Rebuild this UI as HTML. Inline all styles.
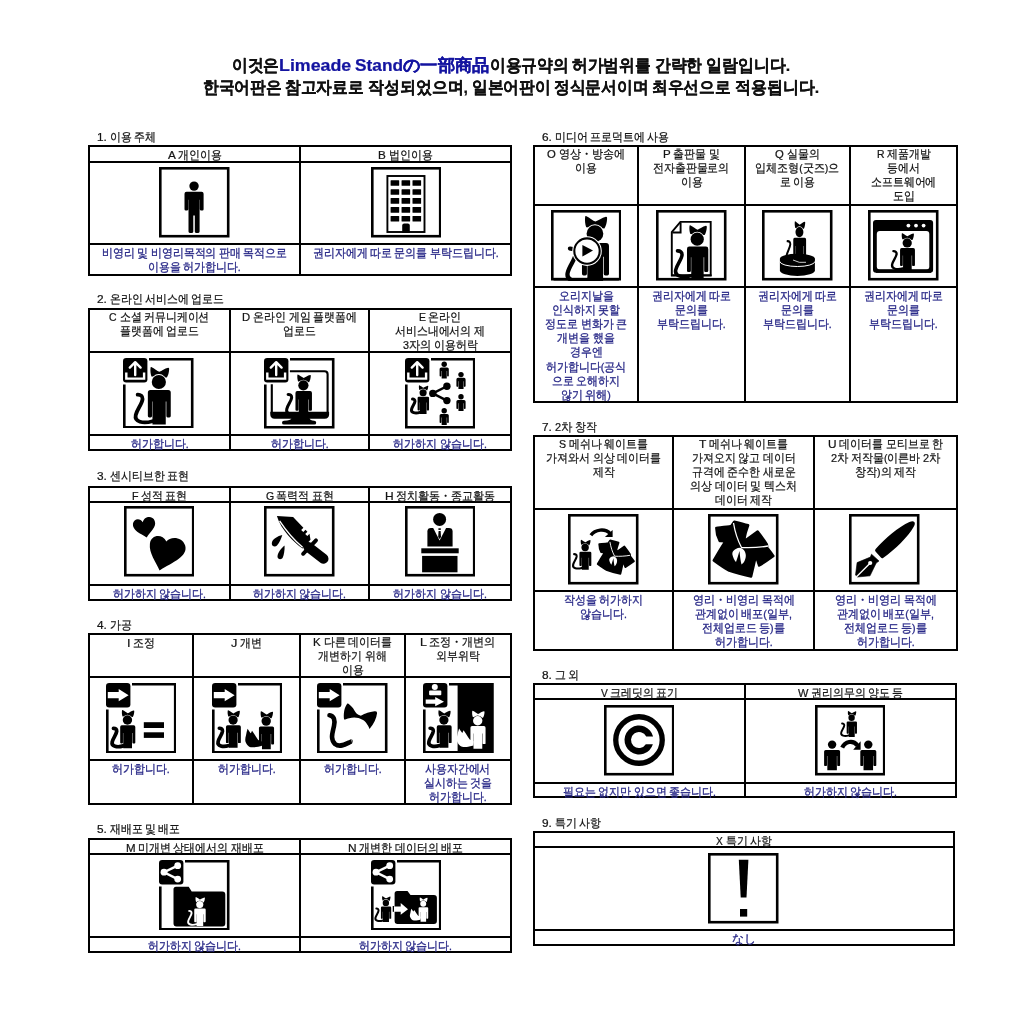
<!DOCTYPE html><html><head><meta charset="utf-8"><style>
html,body{margin:0;padding:0;background:#fff;width:1024px;height:1024px;overflow:hidden;position:relative;font-family:"Liberation Sans", sans-serif;}
.l{position:absolute;background:#000}
.t{position:absolute;white-space:nowrap;font-size:11.5px;line-height:14.13px;height:14.13px;color:#151515;-webkit-text-stroke:0.24px currentColor;transform-origin:0 50%}
.n{color:#2a2a88;-webkit-text-stroke:0.32px currentColor}
svg{position:absolute;overflow:hidden}
</style></head><body>
<div class="l" style="left:88px;top:145px;width:424px;height:2px"></div>
<div class="l" style="left:88px;top:161px;width:424px;height:2px"></div>
<div class="l" style="left:88px;top:243px;width:424px;height:2px"></div>
<div class="l" style="left:88px;top:274px;width:424px;height:2px"></div>
<div class="l" style="left:88px;top:145px;width:2px;height:131px"></div>
<div class="l" style="left:299px;top:145px;width:2px;height:131px"></div>
<div class="l" style="left:510px;top:145px;width:2px;height:131px"></div>
<svg style="left:159.05px;top:167.4px" width="70.5" height="70.5" viewBox="0 0 70.5 70.5"><rect x="1.3" y="1.3" width="67.9" height="67.9" fill="none" stroke="#000" stroke-width="2.6"/><g transform="translate(35.05,24.8) scale(1.0)"><circle cx="0" cy="-5.7" r="4.7" fill="#000"/><path d="M-9.55,2 Q-9.55,0 -7.5,0 H7.5 Q9.55,0 9.55,2 V17.4 Q9.55,18.6 8.3,18.6 H7.2 Q5.8,18.6 5.8,17.4 V8 H5.55 V39.7 Q5.55,41.1 4.2,41.1 H2 Q0.75,41.1 0.75,39.7 V23.6 H-0.75 V39.7 Q-0.75,41.1 -2,41.1 H-4.2 Q-5.55,41.1 -5.55,39.7 V8 H-5.8 V17.4 Q-5.8,18.6 -7.2,18.6 H-8.3 Q-9.55,18.6 -9.55,17.4 Z" fill="#000"/></g></svg>
<svg style="left:370.5px;top:167.4px" width="70.5" height="70.5" viewBox="0 0 70.5 70.5"><rect x="1.3" y="1.3" width="67.9" height="67.9" fill="none" stroke="#000" stroke-width="2.6"/><rect x="16.4" y="9" width="37.1" height="56" fill="none" stroke="#000" stroke-width="1.9"/><rect x="19.60" y="13.20" width="8.6" height="5.6" rx="0.5"/><rect x="30.55" y="13.20" width="8.6" height="5.6" rx="0.5"/><rect x="41.50" y="13.20" width="8.6" height="5.6" rx="0.5"/><rect x="19.60" y="22.15" width="8.6" height="5.6" rx="0.5"/><rect x="30.55" y="22.15" width="8.6" height="5.6" rx="0.5"/><rect x="41.50" y="22.15" width="8.6" height="5.6" rx="0.5"/><rect x="19.60" y="31.10" width="8.6" height="5.6" rx="0.5"/><rect x="30.55" y="31.10" width="8.6" height="5.6" rx="0.5"/><rect x="41.50" y="31.10" width="8.6" height="5.6" rx="0.5"/><rect x="19.60" y="40.05" width="8.6" height="5.6" rx="0.5"/><rect x="30.55" y="40.05" width="8.6" height="5.6" rx="0.5"/><rect x="41.50" y="40.05" width="8.6" height="5.6" rx="0.5"/><rect x="19.60" y="49.00" width="8.6" height="5.6" rx="0.5"/><rect x="30.55" y="49.00" width="8.6" height="5.6" rx="0.5"/><rect x="41.50" y="49.00" width="8.6" height="5.6" rx="0.5"/><path d="M31.2,65.9 V58.4 Q31.2,56.4 33.2,56.4 H36.8 Q38.8,56.4 38.8,58.4 V65.9 Z"/></svg>
<div class="l" style="left:88px;top:308px;width:424px;height:2px"></div>
<div class="l" style="left:88px;top:351px;width:424px;height:2px"></div>
<div class="l" style="left:88px;top:434px;width:424px;height:2px"></div>
<div class="l" style="left:88px;top:449px;width:424px;height:2px"></div>
<div class="l" style="left:88px;top:308px;width:2px;height:143px"></div>
<div class="l" style="left:229px;top:308px;width:2px;height:143px"></div>
<div class="l" style="left:368px;top:308px;width:2px;height:143px"></div>
<div class="l" style="left:510px;top:308px;width:2px;height:143px"></div>
<svg style="left:123.4px;top:357.9px" width="70.5" height="70.5" viewBox="0 0 70.5 70.5"><path d="M26,1.3 H69.2 V69.2 H1.3 V26.5" fill="none" stroke="#000" stroke-width="2.6" stroke-linejoin="miter"/><rect x="0" y="0" width="24.4" height="24.4" rx="3.2"/><path d="M3.3,14.6 V20.6 H21.1 V14.6" fill="none" stroke="#fff" stroke-width="2.4"/><path d="M12.2,17 V4.5 M6.8,9.6 L12.2,4.2 L17.6,9.6" fill="none" stroke="#fff" stroke-width="2.4" stroke-linecap="round" stroke-linejoin="round"/><g transform="translate(36.15,32) scale(1.0)"><path d="M-7.9,-23 C-4.5,-21.5 -2,-19 0.15,-18.2 C2.5,-19 5.5,-21.5 9,-22.3 Q10.3,-22.5 10,-20.5 C9.8,-17.5 9,-14.5 7.7,-12.4 L0,-13 L-7.7,-13.45 C-8.6,-16 -9,-19.5 -8.6,-22.2 Q-8.5,-23.3 -7.9,-23 Z" fill="#000"/><circle cx="-0.3" cy="-8" r="7.9" fill="#fff"/><circle cx="-0.3" cy="-8" r="7.1" fill="#000"/><path d="M-11.3,2.5 Q-11.3,0 -8.8,0 H9.1 Q11.6,0 11.6,2.5 V26 Q11.6,27.4 10.2,27.4 H8.4 Q7.2,27.4 7.2,26 V11.5 H6.6 V34.6 H-6.7 V11.5 H-7.1 V26 Q-7.1,27.4 -8.5,27.4 H-9.9 Q-11.3,27.4 -11.3,26 Z" fill="#000"/><path d="M-6.7,31.2 C-16,34 -25,32 -23.4,25 C-22,19 -17,14 -16.6,9 C-16.5,6 -18.5,4.5 -21.5,4.6" fill="none" stroke="#000" stroke-width="3.8" stroke-linecap="round"/></g></svg>
<svg style="left:264.2px;top:358.2px" width="70.5" height="70.5" viewBox="0 0 70.5 70.5"><path d="M26,1.3 H69.2 V69.2 H1.3 V26.5" fill="none" stroke="#000" stroke-width="2.6" stroke-linejoin="miter"/><rect x="0" y="0" width="24.4" height="24.4" rx="3.2"/><path d="M3.3,14.6 V20.6 H21.1 V14.6" fill="none" stroke="#fff" stroke-width="2.4"/><path d="M12.2,17 V4.5 M6.8,9.6 L12.2,4.2 L17.6,9.6" fill="none" stroke="#fff" stroke-width="2.4" stroke-linecap="round" stroke-linejoin="round"/><path d="M25.9,13.2 H60.5 Q63.6,13.2 63.6,16.3 V56 M7.8,26.3 V56" fill="none" stroke="#000" stroke-width="2.1"/><g transform="translate(39.6,33.1) scale(0.72)"><path d="M-7.9,-23 C-4.5,-21.5 -2,-19 0.15,-18.2 C2.5,-19 5.5,-21.5 9,-22.3 Q10.3,-22.5 10,-20.5 C9.8,-17.5 9,-14.5 7.7,-12.4 L0,-13 L-7.7,-13.45 C-8.6,-16 -9,-19.5 -8.6,-22.2 Q-8.5,-23.3 -7.9,-23 Z" fill="#000"/><circle cx="-0.3" cy="-8" r="7.9" fill="#fff"/><circle cx="-0.3" cy="-8" r="7.1" fill="#000"/><path d="M-11.3,2.5 Q-11.3,0 -8.8,0 H9.1 Q11.6,0 11.6,2.5 V26 Q11.6,27.4 10.2,27.4 H8.4 Q7.2,27.4 7.2,26 V11.5 H6.6 V34.6 H-6.7 V11.5 H-7.1 V26 Q-7.1,27.4 -8.5,27.4 H-9.9 Q-11.3,27.4 -11.3,26 Z" fill="#000"/><path d="M-6.7,31.2 C-16,34 -25,32 -23.4,25 C-22,19 -17,14 -16.6,9 C-16.5,6 -18.5,4.5 -21.5,4.6" fill="none" stroke="#000" stroke-width="4.2" stroke-linecap="round"/></g><path d="M6.3,53.7 H65.1 V56.3 Q65.1,60.7 60.7,60.7 H10.7 Q6.3,60.7 6.3,56.3 Z"/><path d="M27.5,60 H45.5 Q46,62.8 50.2,62.8 Q52.2,62.8 52.2,64.7 Q52.2,66.6 50.2,66.6 H20 Q18,66.6 18,64.7 Q18,62.8 20,62.8 Q27,62.8 27.5,60 Z"/></svg>
<svg style="left:404.6px;top:358.2px" width="70.5" height="70.5" viewBox="0 0 70.5 70.5"><path d="M26,1.3 H69.2 V69.2 H1.3 V26.5" fill="none" stroke="#000" stroke-width="2.6" stroke-linejoin="miter"/><rect x="0" y="0" width="24.4" height="24.4" rx="3.2"/><path d="M3.3,14.6 V20.6 H21.1 V14.6" fill="none" stroke="#fff" stroke-width="2.4"/><path d="M12.2,17 V4.5 M6.8,9.6 L12.2,4.2 L17.6,9.6" fill="none" stroke="#fff" stroke-width="2.4" stroke-linecap="round" stroke-linejoin="round"/><g transform="translate(18.25,38.8) scale(0.5)"><path d="M-7.9,-23 C-4.5,-21.5 -2,-19 0.15,-18.2 C2.5,-19 5.5,-21.5 9,-22.3 Q10.3,-22.5 10,-20.5 C9.8,-17.5 9,-14.5 7.7,-12.4 L0,-13 L-7.7,-13.45 C-8.6,-16 -9,-19.5 -8.6,-22.2 Q-8.5,-23.3 -7.9,-23 Z" fill="#000"/><circle cx="-0.3" cy="-8" r="7.9" fill="#fff"/><circle cx="-0.3" cy="-8" r="7.1" fill="#000"/><path d="M-11.3,2.5 Q-11.3,0 -8.8,0 H9.1 Q11.6,0 11.6,2.5 V26 Q11.6,27.4 10.2,27.4 H8.4 Q7.2,27.4 7.2,26 V11.5 H6.6 V34.6 H-6.7 V11.5 H-7.1 V26 Q-7.1,27.4 -8.5,27.4 H-9.9 Q-11.3,27.4 -11.3,26 Z" fill="#000"/><path d="M-6.7,31.2 C-16,34 -25,32 -23.4,25 C-22,19 -17,14 -16.6,9 C-16.5,6 -18.5,4.5 -21.5,4.6" fill="none" stroke="#000" stroke-width="6.0" stroke-linecap="round"/></g><path d="M27.8,35.4 L41.9,28.2 M27.8,35.4 L41.9,42.6" stroke="#000" stroke-width="2.4"/><circle cx="27.8" cy="35.4" r="3.7"/><circle cx="41.9" cy="28.2" r="3.7"/><circle cx="41.9" cy="42.6" r="3.7"/><circle cx="39.2" cy="6.3" r="2.7" fill="#000"/><path d="M34.6,11.1 Q34.6,9.5 36.2,9.5 H42.2 Q43.800000000000004,9.5 43.800000000000004,11.1 V17.8 Q43.800000000000004,18.6 43.00000000000001,18.6 H42.9 Q42.1,18.6 42.1,17.8 V12.958 H41.75 V20.6 H36.650000000000006 V12.958 H36.300000000000004 V17.8 Q36.300000000000004,18.6 35.50000000000001,18.6 H35.4 Q34.6,18.6 34.6,17.8 Z" fill="#000"/><circle cx="56" cy="16.6" r="2.7" fill="#000"/><path d="M51.4,21.400000000000002 Q51.4,19.8 53.0,19.8 H59.0 Q60.6,19.8 60.6,21.400000000000002 V28.099999999999998 Q60.6,28.9 59.800000000000004,28.9 H59.699999999999996 Q58.9,28.9 58.9,28.099999999999998 V23.258 H58.55 V30.9 H53.45 V23.258 H53.1 V28.099999999999998 Q53.1,28.9 52.300000000000004,28.9 H52.199999999999996 Q51.4,28.9 51.4,28.099999999999998 Z" fill="#000"/><circle cx="56" cy="38.699999999999996" r="2.7" fill="#000"/><path d="M51.4,43.5 Q51.4,41.9 53.0,41.9 H59.0 Q60.6,41.9 60.6,43.5 V50.2 Q60.6,51.0 59.800000000000004,51.0 H59.699999999999996 Q58.9,51.0 58.9,50.2 V45.358 H58.55 V53.0 H53.45 V45.358 H53.1 V50.2 Q53.1,51.0 52.300000000000004,51.0 H52.199999999999996 Q51.4,51.0 51.4,50.2 Z" fill="#000"/><circle cx="39.2" cy="52.8" r="2.7" fill="#000"/><path d="M34.6,57.6 Q34.6,56 36.2,56 H42.2 Q43.800000000000004,56 43.800000000000004,57.6 V64.3 Q43.800000000000004,65.1 43.00000000000001,65.1 H42.9 Q42.1,65.1 42.1,64.3 V59.458 H41.75 V67.1 H36.650000000000006 V59.458 H36.300000000000004 V64.3 Q36.300000000000004,65.1 35.50000000000001,65.1 H35.4 Q34.6,65.1 34.6,64.3 Z" fill="#000"/></svg>
<div class="l" style="left:88px;top:486px;width:424px;height:2px"></div>
<div class="l" style="left:88px;top:501px;width:424px;height:2px"></div>
<div class="l" style="left:88px;top:584px;width:424px;height:2px"></div>
<div class="l" style="left:88px;top:599px;width:424px;height:2px"></div>
<div class="l" style="left:88px;top:486px;width:2px;height:115px"></div>
<div class="l" style="left:229px;top:486px;width:2px;height:115px"></div>
<div class="l" style="left:368px;top:486px;width:2px;height:115px"></div>
<div class="l" style="left:510px;top:486px;width:2px;height:115px"></div>
<svg style="left:123.66px;top:506.4px" width="70.5" height="70.5" viewBox="0 0 70.5 70.5"><rect x="1.3" y="1.3" width="67.9" height="67.9" fill="none" stroke="#000" stroke-width="2.6"/><g transform="translate(20,21) scale(1.13) translate(-20,-21)"><path d="M22.4,30.2 C17,27 9.5,24 10.2,18.2 C10.8,13.5 16.5,12.6 19,16.8 C20,11.5 27.5,10.5 29.5,15.6 C31.5,21 25.5,25 22.4,30.2 Z"/></g><g transform="translate(43.5,47) scale(1.1) translate(-43.5,-47)"><path d="M36.3,62.9 C33,55 26.5,47 27.5,38.5 C28.5,30.5 38.5,29 42.5,36.5 C46,31.5 57,32 59.5,40 C62.5,50 49,55 36.3,62.9 Z"/></g></svg>
<svg style="left:264.2px;top:506.4px" width="70.5" height="70.5" viewBox="0 0 70.5 70.5"><rect x="1.3" y="1.3" width="67.9" height="67.9" fill="none" stroke="#000" stroke-width="2.6"/><path d="M12.9,9.9 L29.1,11.1 L39.4,21.7 L37.2,23.9 L39.3,26 L41.5,23.8 L43.4,25.7 L41.2,27.9 L43.3,30 L45.5,27.8 L46.5,33.8 L38.5,42.5 C30,36 17,24 12.9,9.9 Z"/><path d="M15.6,14.8 C22,24.5 30,34 38.6,41.2" fill="none" stroke="#fff" stroke-width="1.4"/><path d="M39.1,47.8 L52,34.4" stroke="#000" stroke-width="3.9" stroke-linecap="round"/><path d="M44.3,41 L59.5,52.8" stroke="#000" stroke-width="10" stroke-linecap="round"/><path d="M18.3,29 C14,30 8,33 7.8,37.2 C7.6,40.5 11.2,41.5 13,39.5 C15.5,37 17,33 18.3,29 Z"/><path d="M20.6,39.6 C17.5,42 13.5,47 13.5,50.5 C13.5,53.5 17.5,54.3 18.8,51.5 C20,48.5 20.8,44 20.6,39.6 Z"/></svg>
<svg style="left:404.6px;top:506.4px" width="70.5" height="70.5" viewBox="0 0 70.5 70.5"><rect x="1.3" y="1.3" width="67.9" height="67.9" fill="none" stroke="#000" stroke-width="2.6"/><circle cx="34.6" cy="13.4" r="6.5"/><path d="M22.4,40.4 V25.5 Q22.4,22.1 26,22.1 H43.9 Q47.6,22.1 47.6,25.5 V40.4 Z"/><path d="M28.2,22 L34.6,34.6 L41.1,22 Z" fill="#fff"/><path d="M33.6,25 H35.6 L36,31 L34.6,33 L33.2,31 Z"/><rect x="33.4" y="22.3" width="2.4" height="1.6"/><rect x="16.3" y="42.3" width="37.4" height="5"/><rect x="17.1" y="49.9" width="35.4" height="16.4"/></svg>
<div class="l" style="left:88px;top:633px;width:424px;height:2px"></div>
<div class="l" style="left:88px;top:676px;width:424px;height:2px"></div>
<div class="l" style="left:88px;top:759px;width:424px;height:2px"></div>
<div class="l" style="left:88px;top:803px;width:424px;height:2px"></div>
<div class="l" style="left:88px;top:633px;width:2px;height:172px"></div>
<div class="l" style="left:192px;top:633px;width:2px;height:172px"></div>
<div class="l" style="left:299px;top:633px;width:2px;height:172px"></div>
<div class="l" style="left:404px;top:633px;width:2px;height:172px"></div>
<div class="l" style="left:510px;top:633px;width:2px;height:172px"></div>
<svg style="left:105.66px;top:682.8px" width="70.5" height="70.5" viewBox="0 0 70.5 70.5"><path d="M26,1.3 H69.2 V69.2 H1.3 V26.5" fill="none" stroke="#000" stroke-width="2.6" stroke-linejoin="miter"/><rect x="0" y="0" width="24.4" height="24.4" rx="3.2"/><path d="M1.8,9.1 H12.7 V6.1 L22.6,12.2 L12.7,18.3 V15.2 H1.8 Z" fill="#fff"/><g transform="translate(21.65,42.3) scale(0.66)"><path d="M-7.9,-23 C-4.5,-21.5 -2,-19 0.15,-18.2 C2.5,-19 5.5,-21.5 9,-22.3 Q10.3,-22.5 10,-20.5 C9.8,-17.5 9,-14.5 7.7,-12.4 L0,-13 L-7.7,-13.45 C-8.6,-16 -9,-19.5 -8.6,-22.2 Q-8.5,-23.3 -7.9,-23 Z" fill="#000"/><circle cx="-0.3" cy="-8" r="7.9" fill="#fff"/><circle cx="-0.3" cy="-8" r="7.1" fill="#000"/><path d="M-11.3,2.5 Q-11.3,0 -8.8,0 H9.1 Q11.6,0 11.6,2.5 V26 Q11.6,27.4 10.2,27.4 H8.4 Q7.2,27.4 7.2,26 V11.5 H6.6 V34.6 H-6.7 V11.5 H-7.1 V26 Q-7.1,27.4 -8.5,27.4 H-9.9 Q-11.3,27.4 -11.3,26 Z" fill="#000"/><path d="M-6.7,31.2 C-16,34 -25,32 -23.4,25 C-22,19 -17,14 -16.6,9 C-16.5,6 -18.5,4.5 -21.5,4.6" fill="none" stroke="#000" stroke-width="5.6" stroke-linecap="round"/></g><rect x="37.8" y="39.2" width="20.2" height="5.8"/><rect x="37.8" y="49.3" width="20.2" height="5.6"/></svg>
<svg style="left:211.6px;top:682.8px" width="70.5" height="70.5" viewBox="0 0 70.5 70.5"><path d="M26,1.3 H69.2 V69.2 H1.3 V26.5" fill="none" stroke="#000" stroke-width="2.6" stroke-linejoin="miter"/><rect x="0" y="0" width="24.4" height="24.4" rx="3.2"/><path d="M1.8,9.1 H12.7 V6.1 L22.6,12.2 L12.7,18.3 V15.2 H1.8 Z" fill="#fff"/><g transform="translate(21.3,42.3) scale(0.65)"><path d="M-7.9,-23 C-4.5,-21.5 -2,-19 0.15,-18.2 C2.5,-19 5.5,-21.5 9,-22.3 Q10.3,-22.5 10,-20.5 C9.8,-17.5 9,-14.5 7.7,-12.4 L0,-13 L-7.7,-13.45 C-8.6,-16 -9,-19.5 -8.6,-22.2 Q-8.5,-23.3 -7.9,-23 Z" fill="#000"/><circle cx="-0.3" cy="-8" r="7.9" fill="#fff"/><circle cx="-0.3" cy="-8" r="7.1" fill="#000"/><path d="M-11.3,2.5 Q-11.3,0 -8.8,0 H9.1 Q11.6,0 11.6,2.5 V26 Q11.6,27.4 10.2,27.4 H8.4 Q7.2,27.4 7.2,26 V11.5 H6.6 V34.6 H-6.7 V11.5 H-7.1 V26 Q-7.1,27.4 -8.5,27.4 H-9.9 Q-11.3,27.4 -11.3,26 Z" fill="#000"/><path d="M-6.7,31.2 C-16,34 -25,32 -23.4,25 C-22,19 -17,14 -16.6,9 C-16.5,6 -18.5,4.5 -21.5,4.6" fill="none" stroke="#000" stroke-width="5.6" stroke-linecap="round"/></g><g transform="translate(54.4,43.4) scale(0.66)"><path d="M-7.9,-23 C-4.5,-21.5 -2,-19 0.15,-18.2 C2.5,-19 5.5,-21.5 9,-22.3 Q10.3,-22.5 10,-20.5 C9.8,-17.5 9,-14.5 7.7,-12.4 L0,-13 L-7.7,-13.45 C-8.6,-16 -9,-19.5 -8.6,-22.2 Q-8.5,-23.3 -7.9,-23 Z" fill="#000"/><circle cx="-0.3" cy="-8" r="7.9" fill="#fff"/><circle cx="-0.3" cy="-8" r="7.1" fill="#000"/><path d="M-11.3,2.5 Q-11.3,0 -8.8,0 H9.1 Q11.6,0 11.6,2.5 V26 Q11.6,27.4 10.2,27.4 H8.4 Q7.2,27.4 7.2,26 V11.5 H6.6 V34.6 H-6.7 V11.5 H-7.1 V26 Q-7.1,27.4 -8.5,27.4 H-9.9 Q-11.3,27.4 -11.3,26 Z" fill="#000"/><path d="M-6.7,22.8 L-12.4,20.5 C-16,16 -19,10 -21.8,6.6 L-23.5,10.5 L-24.8,9.2 C-26,7 -27.5,5 -28.5,3.6 C-29.5,7 -30.5,10 -30.8,13 C-32,17 -32.5,21 -31.5,23.5 C-30,28 -26,31.7 -22.2,31.7 C-17,32 -11,31 -6.7,29.5 Z" fill="#000"/></g></svg>
<svg style="left:317.43px;top:682.8px" width="70.5" height="70.5" viewBox="0 0 70.5 70.5"><path d="M26,1.3 H69.2 V69.2 H1.3 V26.5" fill="none" stroke="#000" stroke-width="2.6" stroke-linejoin="miter"/><rect x="0" y="0" width="24.4" height="24.4" rx="3.2"/><path d="M1.8,9.1 H12.7 V6.1 L22.6,12.2 L12.7,18.3 V15.2 H1.8 Z" fill="#fff"/><path d="M30.77,20.26 C34,22.5 36,25 37.1,26.9 C38.5,29.5 40,31.5 43.9,32.7 C46,31.5 50,29.5 57.6,28.3 Q60.5,28 60.05,30.3 C59.5,35 57,41 52.5,45.9 C51,42 48,37.5 44.9,36.6 C42,34.5 37,33.8 32.2,35.15 C30.5,35.5 28.5,36.3 27.1,36.6 C26.2,32 27,24 30.77,20.26 Z"/><path d="M12.5,32.3 C17,33 18.3,37 17,43 C15.5,50 13,56 18,61 C23,65 29,61 33.8,58.7" fill="none" stroke="#000" stroke-width="4.6" stroke-linecap="round"/><path d="M34.5,56.5 L35.8,61 M36.2,56 L37.5,60.5" stroke="#fff" stroke-width="0.7"/></svg>
<svg style="left:423.2px;top:682.8px" width="70.5" height="70.5" viewBox="0 0 70.5 70.5"><rect x="34.6" y="0" width="35.9" height="70.5"/><path d="M26,1.3 H69.2 V69.2 H1.3 V26.5" fill="none" stroke="#000" stroke-width="2.6" stroke-linejoin="miter"/><rect x="0" y="0" width="24.4" height="24.4" rx="3.2"/><circle cx="11.8" cy="3.9" r="3.0" fill="#fff"/><rect x="6.1" y="7.6" width="12.2" height="4.6" rx="1" fill="#fff"/><path d="M2.7,16.6 H12.2 V14.1 L21,18.7 L12.2,23.2 V20.8 H2.7 Z" fill="#fff"/><g transform="translate(21.1,42.3) scale(0.65)"><path d="M-7.9,-23 C-4.5,-21.5 -2,-19 0.15,-18.2 C2.5,-19 5.5,-21.5 9,-22.3 Q10.3,-22.5 10,-20.5 C9.8,-17.5 9,-14.5 7.7,-12.4 L0,-13 L-7.7,-13.45 C-8.6,-16 -9,-19.5 -8.6,-22.2 Q-8.5,-23.3 -7.9,-23 Z" fill="#000"/><circle cx="-0.3" cy="-8" r="7.9" fill="#fff"/><circle cx="-0.3" cy="-8" r="7.1" fill="#000"/><path d="M-11.3,2.5 Q-11.3,0 -8.8,0 H9.1 Q11.6,0 11.6,2.5 V26 Q11.6,27.4 10.2,27.4 H8.4 Q7.2,27.4 7.2,26 V11.5 H6.6 V34.6 H-6.7 V11.5 H-7.1 V26 Q-7.1,27.4 -8.5,27.4 H-9.9 Q-11.3,27.4 -11.3,26 Z" fill="#000"/><path d="M-6.7,31.2 C-16,34 -25,32 -23.4,25 C-22,19 -17,14 -16.6,9 C-16.5,6 -18.5,4.5 -21.5,4.6" fill="none" stroke="#000" stroke-width="5.6" stroke-linecap="round"/></g><g transform="translate(54.9,43.0) scale(0.66)"><path d="M-7.9,-23 C-4.5,-21.5 -2,-19 0.15,-18.2 C2.5,-19 5.5,-21.5 9,-22.3 Q10.3,-22.5 10,-20.5 C9.8,-17.5 9,-14.5 7.7,-12.4 L0,-13 L-7.7,-13.45 C-8.6,-16 -9,-19.5 -8.6,-22.2 Q-8.5,-23.3 -7.9,-23 Z" fill="#fff"/><circle cx="-0.3" cy="-8" r="7.9" fill="#000"/><circle cx="-0.3" cy="-8" r="7.1" fill="#fff"/><path d="M-11.3,2.5 Q-11.3,0 -8.8,0 H9.1 Q11.6,0 11.6,2.5 V26 Q11.6,27.4 10.2,27.4 H8.4 Q7.2,27.4 7.2,26 V11.5 H6.6 V34.6 H-6.7 V11.5 H-7.1 V26 Q-7.1,27.4 -8.5,27.4 H-9.9 Q-11.3,27.4 -11.3,26 Z" fill="#fff"/><path d="M-6.7,22.8 L-12.4,20.5 C-16,16 -19,10 -21.8,6.6 L-23.5,10.5 L-24.8,9.2 C-26,7 -27.5,5 -28.5,3.6 C-29.5,7 -30.5,10 -30.8,13 C-32,17 -32.5,21 -31.5,23.5 C-30,28 -26,31.7 -22.2,31.7 C-17,32 -11,31 -6.7,29.5 Z" fill="#fff"/></g></svg>
<div class="l" style="left:88px;top:838px;width:424px;height:2px"></div>
<div class="l" style="left:88px;top:853px;width:424px;height:2px"></div>
<div class="l" style="left:88px;top:936px;width:424px;height:2px"></div>
<div class="l" style="left:88px;top:951px;width:424px;height:2px"></div>
<div class="l" style="left:88px;top:838px;width:2px;height:115px"></div>
<div class="l" style="left:299px;top:838px;width:2px;height:115px"></div>
<div class="l" style="left:510px;top:838px;width:2px;height:115px"></div>
<svg style="left:159.2px;top:859.8px" width="70.5" height="70.5" viewBox="0 0 70.5 70.5"><path d="M26,1.3 H69.2 V69.2 H1.3 V26.5" fill="none" stroke="#000" stroke-width="2.6" stroke-linejoin="miter"/><rect x="0" y="0" width="24.4" height="24.4" rx="3.2"/><path d="M18.7,5.7 L5,12.2 L18.7,19.1" fill="none" stroke="#fff" stroke-width="2.4"/><circle cx="18.7" cy="5.7" r="3.4" fill="#fff"/><circle cx="5" cy="12.2" r="3.4" fill="#fff"/><circle cx="18.7" cy="19.1" r="3.4" fill="#fff"/><path d="M14.5,29.2 Q14.5,26.7 17.0,26.7 H29.7 L32.7,31.6 H63.3 Q66.3,31.6 66.3,34.6 V63.599999999999994 Q66.3,66.6 63.3,66.6 H17.5 Q14.5,66.6 14.5,63.599999999999994 Z"/><g transform="translate(40.9,48.6) scale(0.5)"><path d="M-7.9,-23 C-4.5,-21.5 -2,-19 0.15,-18.2 C2.5,-19 5.5,-21.5 9,-22.3 Q10.3,-22.5 10,-20.5 C9.8,-17.5 9,-14.5 7.7,-12.4 L0,-13 L-7.7,-13.45 C-8.6,-16 -9,-19.5 -8.6,-22.2 Q-8.5,-23.3 -7.9,-23 Z" fill="#fff"/><circle cx="-0.3" cy="-8" r="7.9" fill="#000"/><circle cx="-0.3" cy="-8" r="7.1" fill="#fff"/><path d="M-11.3,2.5 Q-11.3,0 -8.8,0 H9.1 Q11.6,0 11.6,2.5 V26 Q11.6,27.4 10.2,27.4 H8.4 Q7.2,27.4 7.2,26 V11.5 H6.6 V34.6 H-6.7 V11.5 H-7.1 V26 Q-7.1,27.4 -8.5,27.4 H-9.9 Q-11.3,27.4 -11.3,26 Z" fill="#fff"/><path d="M-6.7,31.2 C-16,34 -25,32 -23.4,25 C-22,19 -17,14 -16.6,9 C-16.5,6 -18.5,4.5 -21.5,4.6" fill="none" stroke="#fff" stroke-width="3.8" stroke-linecap="round"/></g></svg>
<svg style="left:370.6px;top:859.8px" width="70.5" height="70.5" viewBox="0 0 70.5 70.5"><path d="M26,1.3 H69.2 V69.2 H1.3 V26.5" fill="none" stroke="#000" stroke-width="2.6" stroke-linejoin="miter"/><rect x="0" y="0" width="24.4" height="24.4" rx="3.2"/><path d="M18.7,5.7 L5,12.2 L18.7,19.1" fill="none" stroke="#fff" stroke-width="2.4"/><circle cx="18.7" cy="5.7" r="3.4" fill="#fff"/><circle cx="5" cy="12.2" r="3.4" fill="#fff"/><circle cx="18.7" cy="19.1" r="3.4" fill="#fff"/><path d="M23.6,33.4 Q23.6,30.9 26.1,30.9 H36.5 L39.5,35.0 H62.900000000000006 Q65.9,35.0 65.9,38.0 V61.0 Q65.9,64.0 62.900000000000006,64.0 H26.6 Q23.6,64.0 23.6,61.0 Z"/><g transform="translate(15.0,46.5) scale(0.45)"><path d="M-7.9,-23 C-4.5,-21.5 -2,-19 0.15,-18.2 C2.5,-19 5.5,-21.5 9,-22.3 Q10.3,-22.5 10,-20.5 C9.8,-17.5 9,-14.5 7.7,-12.4 L0,-13 L-7.7,-13.45 C-8.6,-16 -9,-19.5 -8.6,-22.2 Q-8.5,-23.3 -7.9,-23 Z" fill="#000"/><circle cx="-0.3" cy="-8" r="7.9" fill="#fff"/><circle cx="-0.3" cy="-8" r="7.1" fill="#000"/><path d="M-11.3,2.5 Q-11.3,0 -8.8,0 H9.1 Q11.6,0 11.6,2.5 V26 Q11.6,27.4 10.2,27.4 H8.4 Q7.2,27.4 7.2,26 V11.5 H6.6 V34.6 H-6.7 V11.5 H-7.1 V26 Q-7.1,27.4 -8.5,27.4 H-9.9 Q-11.3,27.4 -11.3,26 Z" fill="#000"/><path d="M-6.7,31.2 C-16,34 -25,32 -23.4,25 C-22,19 -17,14 -16.6,9 C-16.5,6 -18.5,4.5 -21.5,4.6" fill="none" stroke="#000" stroke-width="4.4" stroke-linecap="round"/></g><rect x="21.7" y="46" width="1.6" height="5.8"/><path d="M23,46.6 H29.7 V43 L37,49.2 L29.7,54.8 V51.8 H23 Z" fill="#fff"/><g transform="translate(52.35,47.2) scale(0.42)"><path d="M-7.9,-23 C-4.5,-21.5 -2,-19 0.15,-18.2 C2.5,-19 5.5,-21.5 9,-22.3 Q10.3,-22.5 10,-20.5 C9.8,-17.5 9,-14.5 7.7,-12.4 L0,-13 L-7.7,-13.45 C-8.6,-16 -9,-19.5 -8.6,-22.2 Q-8.5,-23.3 -7.9,-23 Z" fill="#fff"/><circle cx="-0.3" cy="-8" r="7.9" fill="#000"/><circle cx="-0.3" cy="-8" r="7.1" fill="#fff"/><path d="M-11.3,2.5 Q-11.3,0 -8.8,0 H9.1 Q11.6,0 11.6,2.5 V26 Q11.6,27.4 10.2,27.4 H8.4 Q7.2,27.4 7.2,26 V11.5 H6.6 V34.6 H-6.7 V11.5 H-7.1 V26 Q-7.1,27.4 -8.5,27.4 H-9.9 Q-11.3,27.4 -11.3,26 Z" fill="#fff"/><path d="M-6.7,22.8 L-12.4,20.5 C-16,16 -19,10 -21.8,6.6 L-23.5,10.5 L-24.8,9.2 C-26,7 -27.5,5 -28.5,3.6 C-29.5,7 -30.5,10 -30.8,13 C-32,17 -32.5,21 -31.5,23.5 C-30,28 -26,31.7 -22.2,31.7 C-17,32 -11,31 -6.7,29.5 Z" fill="#fff"/></g></svg>
<div class="l" style="left:533px;top:145px;width:425px;height:2px"></div>
<div class="l" style="left:533px;top:204px;width:425px;height:2px"></div>
<div class="l" style="left:533px;top:286px;width:425px;height:2px"></div>
<div class="l" style="left:533px;top:401px;width:425px;height:2px"></div>
<div class="l" style="left:533px;top:145px;width:2px;height:258px"></div>
<div class="l" style="left:637px;top:145px;width:2px;height:258px"></div>
<div class="l" style="left:744px;top:145px;width:2px;height:258px"></div>
<div class="l" style="left:849px;top:145px;width:2px;height:258px"></div>
<div class="l" style="left:956px;top:145px;width:2px;height:258px"></div>
<svg style="left:550.66px;top:210.2px" width="70.5" height="70.5" viewBox="0 0 70.5 70.5"><rect x="1.3" y="1.3" width="67.9" height="67.9" fill="none" stroke="#000" stroke-width="2.6"/><g transform="translate(44.3,33.1) scale(1.18)"><path d="M-7.9,-23 C-4.5,-21.5 -2,-19 0.15,-18.2 C2.5,-19 5.5,-21.5 9,-22.3 Q10.3,-22.5 10,-20.5 C9.8,-17.5 9,-14.5 7.7,-12.4 L0,-13 L-7.7,-13.45 C-8.6,-16 -9,-19.5 -8.6,-22.2 Q-8.5,-23.3 -7.9,-23 Z" fill="#000"/><circle cx="-0.3" cy="-8" r="7.9" fill="#fff"/><circle cx="-0.3" cy="-8" r="7.1" fill="#000"/><path d="M-11.3,2.5 Q-11.3,0 -8.8,0 H9.1 Q11.6,0 11.6,2.5 V26 Q11.6,27.4 10.2,27.4 H8.4 Q7.2,27.4 7.2,26 V11.5 H6.6 V34.6 H-6.7 V11.5 H-7.1 V26 Q-7.1,27.4 -8.5,27.4 H-9.9 Q-11.3,27.4 -11.3,26 Z" fill="#000"/><path d="M-6.7,31.2 C-16,34 -25,32 -23.4,25 C-22,19 -17,14 -16.6,9 C-16.5,6 -18.5,4.5 -21.5,4.6" fill="none" stroke="#000" stroke-width="3.6" stroke-linecap="round"/></g><rect x="2.6" y="67.9" width="65.3" height="2.6"/><circle cx="36" cy="41.1" r="14.8" fill="#fff"/><circle cx="36" cy="41.1" r="12.7" fill="none" stroke="#000" stroke-width="2.1"/><path d="M31.4,35 L31.4,46.6 L42,40.6 Z"/></svg>
<svg style="left:656.4px;top:210.2px" width="70.5" height="70.5" viewBox="0 0 70.5 70.5"><rect x="1.3" y="1.3" width="67.9" height="67.9" fill="none" stroke="#000" stroke-width="2.6"/><path d="M24.4,11.9 H54.7 V65.4 H15.8 V22.1 Z" fill="none" stroke="#000" stroke-width="1.9"/><path d="M16.5,22.5 H24.6 V12.5" fill="none" stroke="#000" stroke-width="1.9"/><g transform="translate(41.5,36.6) scale(0.93)"><path d="M-7.9,-23 C-4.5,-21.5 -2,-19 0.15,-18.2 C2.5,-19 5.5,-21.5 9,-22.3 Q10.3,-22.5 10,-20.5 C9.8,-17.5 9,-14.5 7.7,-12.4 L0,-13 L-7.7,-13.45 C-8.6,-16 -9,-19.5 -8.6,-22.2 Q-8.5,-23.3 -7.9,-23 Z" fill="#000"/><circle cx="-0.3" cy="-8" r="7.9" fill="#fff"/><circle cx="-0.3" cy="-8" r="7.1" fill="#000"/><path d="M-11.3,2.5 Q-11.3,0 -8.8,0 H9.1 Q11.6,0 11.6,2.5 V26 Q11.6,27.4 10.2,27.4 H8.4 Q7.2,27.4 7.2,26 V11.5 H6.6 V34.6 H-6.7 V11.5 H-7.1 V26 Q-7.1,27.4 -8.5,27.4 H-9.9 Q-11.3,27.4 -11.3,26 Z" fill="#000"/><path d="M-6.7,31.2 C-16,34 -25,32 -23.4,25 C-22,19 -17,14 -16.6,9 C-16.5,6 -18.5,4.5 -21.5,4.6" fill="none" stroke="#000" stroke-width="3.8" stroke-linecap="round"/></g><rect x="15" y="64.4" width="40.6" height="2"/></svg>
<svg style="left:762.3px;top:210.2px" width="70.5" height="70.5" viewBox="0 0 70.5 70.5"><rect x="1.3" y="1.3" width="67.9" height="67.9" fill="none" stroke="#000" stroke-width="2.6"/><path d="M17.9,48.7 V60.5 A17.5,5.4 0 0 0 52.9,60.5 V48.7 Z"/><ellipse cx="35.4" cy="48.7" rx="17.5" ry="5" fill="#000"/><path d="M17.9,51.5 A17.5,5 0 0 0 52.9,51.5" fill="none" stroke="#fff" stroke-width="1.0"/><g transform="translate(37.6,27.8) scale(0.56,0.72)"><path d="M-7.9,-23 C-4.5,-21.5 -2,-19 0.15,-18.2 C2.5,-19 5.5,-21.5 9,-22.3 Q10.3,-22.5 10,-20.5 C9.8,-17.5 9,-14.5 7.7,-12.4 L0,-13 L-7.7,-13.45 C-8.6,-16 -9,-19.5 -8.6,-22.2 Q-8.5,-23.3 -7.9,-23 Z" fill="#000"/><circle cx="-0.3" cy="-8" r="7.9" fill="#fff"/><circle cx="-0.3" cy="-8" r="7.1" fill="#000"/><path d="M-11.3,2.5 Q-11.3,0 -8.8,0 H9.1 Q11.6,0 11.6,2.5 V26 Q11.6,27.4 10.2,27.4 H8.4 Q7.2,27.4 7.2,26 V11.5 H6.6 V34.6 H-6.7 V11.5 H-7.1 V26 Q-7.1,27.4 -8.5,27.4 H-9.9 Q-11.3,27.4 -11.3,26 Z" fill="#000"/><path d="M-6.7,31.2 C-16,34 -25,32 -23.4,25 C-22,19 -17,14 -16.6,9 C-16.5,6 -18.5,4.5 -21.5,4.6" fill="none" stroke="#000" stroke-width="3.4" stroke-linecap="round"/></g><path d="M31,50 Q37,53.5 44,52.3" fill="none" stroke="#fff" stroke-width="0.8"/></svg>
<svg style="left:868.0px;top:210.2px" width="70.5" height="70.5" viewBox="0 0 70.5 70.5"><rect x="1.3" y="1.3" width="67.9" height="67.9" fill="none" stroke="#000" stroke-width="2.6"/><path d="M5,13 Q5,10 8,10 H62.1 Q65.1,10 65.1,13 V59.8 Q65.1,62.8 62.1,62.8 H8 Q5,62.8 5,59.8 Z"/><path d="M8.8,24 Q8.8,21 11.8,21 H58.3 Q61.3,21 61.3,24 V56.4 Q61.3,59.4 58.3,59.4 H11.8 Q8.8,59.4 8.8,56.4 Z" fill="#fff"/><circle cx="40.4" cy="15.6" r="1.9" fill="#fff"/><circle cx="48" cy="15.6" r="1.9" fill="#fff"/><circle cx="55.6" cy="15.6" r="1.9" fill="#fff"/><g transform="translate(39.4,38.1) scale(0.65)"><path d="M-7.9,-23 C-4.5,-21.5 -2,-19 0.15,-18.2 C2.5,-19 5.5,-21.5 9,-22.3 Q10.3,-22.5 10,-20.5 C9.8,-17.5 9,-14.5 7.7,-12.4 L0,-13 L-7.7,-13.45 C-8.6,-16 -9,-19.5 -8.6,-22.2 Q-8.5,-23.3 -7.9,-23 Z" fill="#000"/><circle cx="-0.3" cy="-8" r="7.9" fill="#fff"/><circle cx="-0.3" cy="-8" r="7.1" fill="#000"/><path d="M-11.3,2.5 Q-11.3,0 -8.8,0 H9.1 Q11.6,0 11.6,2.5 V26 Q11.6,27.4 10.2,27.4 H8.4 Q7.2,27.4 7.2,26 V11.5 H6.6 V34.6 H-6.7 V11.5 H-7.1 V26 Q-7.1,27.4 -8.5,27.4 H-9.9 Q-11.3,27.4 -11.3,26 Z" fill="#000"/><path d="M-6.7,31.2 C-16,34 -25,32 -23.4,25 C-22,19 -17,14 -16.6,9 C-16.5,6 -18.5,4.5 -21.5,4.6" fill="none" stroke="#000" stroke-width="3.6" stroke-linecap="round"/></g><rect x="8" y="59.4" width="55" height="3.4"/></svg>
<div class="l" style="left:533px;top:435px;width:425px;height:2px"></div>
<div class="l" style="left:533px;top:508px;width:425px;height:2px"></div>
<div class="l" style="left:533px;top:590px;width:425px;height:2px"></div>
<div class="l" style="left:533px;top:649px;width:425px;height:2px"></div>
<div class="l" style="left:533px;top:435px;width:2px;height:216px"></div>
<div class="l" style="left:672px;top:435px;width:2px;height:216px"></div>
<div class="l" style="left:813px;top:435px;width:2px;height:216px"></div>
<div class="l" style="left:956px;top:435px;width:2px;height:216px"></div>
<svg style="left:568.0px;top:514.4px" width="70.5" height="70.5" viewBox="0 0 70.5 70.5"><rect x="1.3" y="1.3" width="67.9" height="67.9" fill="none" stroke="#000" stroke-width="2.6"/><g transform="translate(17.3,37.7) scale(0.52)"><path d="M-7.9,-23 C-4.5,-21.5 -2,-19 0.15,-18.2 C2.5,-19 5.5,-21.5 9,-22.3 Q10.3,-22.5 10,-20.5 C9.8,-17.5 9,-14.5 7.7,-12.4 L0,-13 L-7.7,-13.45 C-8.6,-16 -9,-19.5 -8.6,-22.2 Q-8.5,-23.3 -7.9,-23 Z" fill="#000"/><circle cx="-0.3" cy="-8" r="7.9" fill="#fff"/><circle cx="-0.3" cy="-8" r="7.1" fill="#000"/><path d="M-11.3,2.5 Q-11.3,0 -8.8,0 H9.1 Q11.6,0 11.6,2.5 V26 Q11.6,27.4 10.2,27.4 H8.4 Q7.2,27.4 7.2,26 V11.5 H6.6 V34.6 H-6.7 V11.5 H-7.1 V26 Q-7.1,27.4 -8.5,27.4 H-9.9 Q-11.3,27.4 -11.3,26 Z" fill="#000"/><path d="M-6.7,31.2 C-16,34 -25,32 -23.4,25 C-22,19 -17,14 -16.6,9 C-16.5,6 -18.5,4.5 -21.5,4.6" fill="none" stroke="#000" stroke-width="4.0" stroke-linecap="round"/></g><path d="M22.9,21.2 C27,15.5 37,13.8 42.2,19.6" fill="none" stroke="#000" stroke-width="3.4"/><path d="M36.9,22.9 L44.6,16.1 L44.6,22.9 Z"/><g transform="translate(27.0,22.6) scale(0.585)"><path d="M7.2,13 C12,12.5 18,12.3 22.8,11.1 L25.9,6.5 C30,7.5 36,9 40.3,10.3 C38.5,15 36.8,21 35.8,27.1 L50.2,16.8 C53.5,21 57,25.5 59.8,30.1 L60.2,33.9 C62.5,36.5 64.5,39.5 66.6,42.3 C61.5,46 56.5,49.5 51.8,52.2 L48.3,41.5 C47,49 45,56.5 43.4,63.6 C35.5,62 27.5,60 20.6,57.5 C15,54.5 9.5,50.5 4.6,46.9 C8.5,40 12.5,33 16.7,27.1 C14.5,26.8 12.5,26.8 10.7,26.7 C8.5,22.5 7.2,17.5 7.2,13 Z" stroke="#000" stroke-width="3" stroke-linejoin="round"/><path d="M25.5,9 C27,18 29.5,26 33.5,33.5 C42,34 51,33.5 60,32" fill="none" stroke="#fff" stroke-width="1.6"/><path d="M31.5,33.8 C27,34.5 23,37.5 24.8,42 C25.8,45 27.2,47.5 28,48 C29.5,44 30.5,40 31.5,37 C32,42 32.5,47 33.5,50.5 C36,49 38,45 37.8,41 C37.5,37 35,34.5 31.5,33.8 Z" fill="#fff"/></g></svg>
<svg style="left:708.3px;top:514.4px" width="70.5" height="70.5" viewBox="0 0 70.5 70.5"><rect x="1.3" y="1.3" width="67.9" height="67.9" fill="none" stroke="#000" stroke-width="2.6"/><g transform="translate(35.6,35) scale(0.96) translate(-35.6,-35)"><path d="M7.2,13 C12,12.5 18,12.3 22.8,11.1 L25.9,6.5 C30,7.5 36,9 40.3,10.3 C38.5,15 36.8,21 35.8,27.1 L50.2,16.8 C53.5,21 57,25.5 59.8,30.1 L60.2,33.9 C62.5,36.5 64.5,39.5 66.6,42.3 C61.5,46 56.5,49.5 51.8,52.2 L48.3,41.5 C47,49 45,56.5 43.4,63.6 C35.5,62 27.5,60 20.6,57.5 C15,54.5 9.5,50.5 4.6,46.9 C8.5,40 12.5,33 16.7,27.1 C14.5,26.8 12.5,26.8 10.7,26.7 C8.5,22.5 7.2,17.5 7.2,13 Z" stroke="#000" stroke-width="2.6" stroke-linejoin="round"/></g><path d="M25.5,9 C27,18 29.5,26 33.5,33.5 C42,34 51,33.5 60,32" fill="none" stroke="#fff" stroke-width="1.3"/><path d="M31.5,33.8 C27,34.5 23,37.5 24.8,42 C25.8,45 27.2,47.5 28,48 C29.5,44 30.5,40 31.5,37 C32,42 32.5,47 33.5,50.5 C36,49 38,45 37.8,41 C37.5,37 35,34.5 31.5,33.8 Z" fill="#fff"/></svg>
<svg style="left:849.0px;top:514.4px" width="70.5" height="70.5" viewBox="0 0 70.5 70.5"><rect x="1.3" y="1.3" width="67.9" height="67.9" fill="none" stroke="#000" stroke-width="2.6"/><g transform="translate(29.2,40.55) rotate(-42.1)"><path d="M0,-4 Q0,-5.6 1.8,-5.8 C16,-7.6 34,-6.8 45,-3.2 Q48.6,-2 48.6,0 Q48.6,2 45,3.2 C34,6.8 16,7.6 1.8,5.8 Q0,5.6 0,4 Z"/></g><path d="M8.1,48.6 L21.4,43.1 L22.5,40.2 L30,47 L27.2,49 L21,61.85 L8.5,63 L6.5,61.1 Z" stroke="#000" stroke-width="0.6" stroke-linejoin="round"/><path d="M21.3,49 L7.3,63" stroke="#fff" stroke-width="1.3"/><circle cx="21.2" cy="49" r="2.1" fill="#fff"/></svg>
<div class="l" style="left:533px;top:683px;width:424px;height:2px"></div>
<div class="l" style="left:533px;top:698px;width:424px;height:2px"></div>
<div class="l" style="left:533px;top:782px;width:424px;height:2px"></div>
<div class="l" style="left:533px;top:796px;width:424px;height:2px"></div>
<div class="l" style="left:533px;top:683px;width:2px;height:115px"></div>
<div class="l" style="left:744px;top:683px;width:2px;height:115px"></div>
<div class="l" style="left:955px;top:683px;width:2px;height:115px"></div>
<svg style="left:603.8px;top:705.2px" width="70.5" height="70.5" viewBox="0 0 70.5 70.5"><rect x="1.3" y="1.3" width="67.9" height="67.9" fill="none" stroke="#000" stroke-width="2.6"/><circle cx="35" cy="35" r="23.25" fill="none" stroke="#000" stroke-width="5.3"/><path d="M49.1,31.6 A14.5,14.5 0 1 0 48.88,39.2 L41.81,39.2 A8,8 0 1 1 42.24,31.6 Z"/></svg>
<svg style="left:814.8px;top:705.4px" width="70.5" height="70.5" viewBox="0 0 70.5 70.5"><rect x="1.3" y="1.3" width="67.9" height="67.9" fill="none" stroke="#000" stroke-width="2.6"/><g transform="translate(36.75,16.4) scale(0.45)"><path d="M-7.9,-23 C-4.5,-21.5 -2,-19 0.15,-18.2 C2.5,-19 5.5,-21.5 9,-22.3 Q10.3,-22.5 10,-20.5 C9.8,-17.5 9,-14.5 7.7,-12.4 L0,-13 L-7.7,-13.45 C-8.6,-16 -9,-19.5 -8.6,-22.2 Q-8.5,-23.3 -7.9,-23 Z" fill="#000"/><circle cx="-0.3" cy="-8" r="7.9" fill="#fff"/><circle cx="-0.3" cy="-8" r="7.1" fill="#000"/><path d="M-11.3,2.5 Q-11.3,0 -8.8,0 H9.1 Q11.6,0 11.6,2.5 V26 Q11.6,27.4 10.2,27.4 H8.4 Q7.2,27.4 7.2,26 V11.5 H6.6 V34.6 H-6.7 V11.5 H-7.1 V26 Q-7.1,27.4 -8.5,27.4 H-9.9 Q-11.3,27.4 -11.3,26 Z" fill="#000"/><path d="M-6.7,31.2 C-16,34 -25,32 -23.4,25 C-22,19 -17,14 -16.6,9 C-16.5,6 -18.5,4.5 -21.5,4.6" fill="none" stroke="#000" stroke-width="4.2" stroke-linecap="round"/></g><circle cx="17.1" cy="39.599999999999994" r="4.2" fill="#000"/><path d="M9.100000000000001,46.5 Q9.100000000000001,44.9 10.700000000000001,44.9 H23.5 Q25.1,44.9 25.1,46.5 V60.3 Q25.1,61.099999999999994 24.3,61.099999999999994 H23.020000000000003 Q22.220000000000002,61.099999999999994 22.220000000000002,60.3 V51.056 H21.87 V65.2 H12.330000000000002 V51.056 H11.98 V60.3 Q11.98,61.099999999999994 11.18,61.099999999999994 H9.900000000000002 Q9.100000000000001,61.099999999999994 9.100000000000001,60.3 Z" fill="#000"/><circle cx="53.3" cy="39.599999999999994" r="4.2" fill="#000"/><path d="M45.3,46.5 Q45.3,44.9 46.9,44.9 H59.699999999999996 Q61.3,44.9 61.3,46.5 V60.3 Q61.3,61.099999999999994 60.5,61.099999999999994 H59.21999999999999 Q58.419999999999995,61.099999999999994 58.419999999999995,60.3 V51.056 H58.07 V65.2 H48.529999999999994 V51.056 H48.18 V60.3 Q48.18,61.099999999999994 47.38,61.099999999999994 H46.099999999999994 Q45.3,61.099999999999994 45.3,60.3 Z" fill="#000"/><path d="M27.2,42.6 C30,36.5 38,34.5 42.5,40.5" fill="none" stroke="#000" stroke-width="4.2"/><path d="M38.2,44.7 L45.6,36.3 L45.6,44.7 Z"/></svg>
<div class="l" style="left:533px;top:831px;width:422px;height:2px"></div>
<div class="l" style="left:533px;top:846px;width:422px;height:2px"></div>
<div class="l" style="left:533px;top:929px;width:422px;height:2px"></div>
<div class="l" style="left:533px;top:944px;width:422px;height:2px"></div>
<div class="l" style="left:533px;top:831px;width:2px;height:115px"></div>
<div class="l" style="left:953px;top:831px;width:2px;height:115px"></div>
<svg style="left:708.2px;top:853.2px" width="70.5" height="70.5" viewBox="0 0 70.5 70.5"><rect x="1.3" y="1.3" width="67.9" height="67.9" fill="none" stroke="#000" stroke-width="2.6"/><path d="M30.8,6.8 H40.4 L38.5,44.5 H32.7 Z"/><rect x="32" y="56" width="7.2" height="7.6"/></svg>
<div style="position:absolute;left:0;top:0;width:1024px;height:1024px;will-change:transform">
<div class="t " style="left:231.91px;top:54.50px;transform:scaleX(0.9252);font-weight:bold;font-size:17px;line-height:22px;height:22px;color:#111">이것은</div>
<div class="t " style="left:279.09px;top:54.50px;transform:scaleX(1.0480);font-weight:bold;font-size:17px;line-height:22px;height:22px;color:#1414a0">Limeade</div>
<div class="t " style="left:355.28px;top:54.50px;transform:scaleX(1.0170);font-weight:bold;font-size:17px;line-height:22px;height:22px;color:#1414a0">Standの一部商品</div>
<div class="t " style="left:489.77px;top:54.50px;transform:scaleX(0.9252);font-weight:bold;font-size:17px;line-height:22px;height:22px;color:#111">이용규약의</div>
<div class="t " style="left:572.30px;top:54.50px;transform:scaleX(0.9252);font-weight:bold;font-size:17px;line-height:22px;height:22px;color:#111">허가범위를</div>
<div class="t " style="left:654.83px;top:54.50px;transform:scaleX(0.9252);font-weight:bold;font-size:17px;line-height:22px;height:22px;color:#111">간략한</div>
<div class="t " style="left:705.91px;top:54.50px;transform:scaleX(0.9382);font-weight:bold;font-size:17px;line-height:22px;height:22px;color:#111">일람입니다.</div>
<div class="t " style="left:202.81px;top:77.20px;transform:scaleX(0.9252);font-weight:bold;font-size:17px;line-height:22px;height:22px;color:#111">한국어판은</div>
<div class="t " style="left:285.34px;top:77.20px;transform:scaleX(0.9252);font-weight:bold;font-size:17px;line-height:22px;height:22px;color:#111">참고자료로</div>
<div class="t " style="left:367.88px;top:77.20px;transform:scaleX(0.9362);font-weight:bold;font-size:17px;line-height:22px;height:22px;color:#111">작성되었으며,</div>
<div class="t " style="left:471.69px;top:77.20px;transform:scaleX(0.9252);font-weight:bold;font-size:17px;line-height:22px;height:22px;color:#111">일본어판이</div>
<div class="t " style="left:554.22px;top:77.20px;transform:scaleX(0.9251);font-weight:bold;font-size:17px;line-height:22px;height:22px;color:#111">정식문서이며</div>
<div class="t " style="left:652.47px;top:77.20px;transform:scaleX(0.9252);font-weight:bold;font-size:17px;line-height:22px;height:22px;color:#111">최우선으로</div>
<div class="t " style="left:735.00px;top:77.20px;transform:scaleX(0.9382);font-weight:bold;font-size:17px;line-height:22px;height:22px;color:#111">적용됩니다.</div>
<div class="t " style="left:97.00px;top:129.94px;transform:scaleX(1.0293)">1.</div>
<div class="t " style="left:109.53px;top:129.94px;transform:scaleX(0.9082)">이용</div>
<div class="t " style="left:133.98px;top:129.94px;transform:scaleX(0.9082)">주체</div>
<div class="t " style="left:167.77px;top:148.13px;transform:scaleX(1.0222)">A</div>
<div class="t " style="left:177.63px;top:148.13px;transform:scaleX(0.9082)">개인이용</div>
<div class="t n" style="left:101.99px;top:245.94px;transform:scaleX(0.9084)">비영리</div>
<div class="t n" style="left:137.35px;top:245.94px;transform:scaleX(0.9089)">및</div>
<div class="t n" style="left:150.91px;top:245.94px;transform:scaleX(0.9082)">비영리목적의</div>
<div class="t n" style="left:218.96px;top:245.94px;transform:scaleX(0.9082)">판매</div>
<div class="t n" style="left:243.41px;top:245.94px;transform:scaleX(0.9082)">목적으로</div>
<div class="t n" style="left:147.93px;top:260.06px;transform:scaleX(0.9084)">이용을</div>
<div class="t n" style="left:183.29px;top:260.06px;transform:scaleX(0.9142)">허가합니다.</div>
<div class="t " style="left:378.48px;top:148.13px;transform:scaleX(1.0163)">B</div>
<div class="t " style="left:388.93px;top:148.13px;transform:scaleX(0.9082)">법인이용</div>
<div class="t n" style="left:312.69px;top:245.94px;transform:scaleX(0.9081)">권리자에게</div>
<div class="t n" style="left:369.83px;top:245.94px;transform:scaleX(0.9082)">따로</div>
<div class="t n" style="left:394.28px;top:245.94px;transform:scaleX(0.9084)">문의를</div>
<div class="t n" style="left:429.64px;top:245.94px;transform:scaleX(0.9132)">부탁드립니다.</div>
<div class="t " style="left:97.00px;top:291.94px;transform:scaleX(1.0293)">2.</div>
<div class="t " style="left:109.53px;top:291.94px;transform:scaleX(0.9084)">온라인</div>
<div class="t " style="left:144.89px;top:291.94px;transform:scaleX(0.9082)">서비스에</div>
<div class="t " style="left:191.14px;top:291.94px;transform:scaleX(0.9084)">업로드</div>
<div class="t " style="left:109.47px;top:309.94px;transform:scaleX(0.9098)">C</div>
<div class="t " style="left:119.69px;top:309.94px;transform:scaleX(0.9082)">소셜</div>
<div class="t " style="left:144.14px;top:309.94px;transform:scaleX(0.9082)">커뮤니케이션</div>
<div class="t " style="left:120.02px;top:324.06px;transform:scaleX(0.9082)">플랫폼에</div>
<div class="t " style="left:166.27px;top:324.06px;transform:scaleX(0.9084)">업로드</div>
<div class="t n" style="left:130.61px;top:436.94px;transform:scaleX(0.9142)">허가합니다.</div>
<div class="t " style="left:242.39px;top:309.94px;transform:scaleX(0.9812)">D</div>
<div class="t " style="left:253.20px;top:309.94px;transform:scaleX(0.9084)">온라인</div>
<div class="t " style="left:288.56px;top:309.94px;transform:scaleX(0.9082)">게임</div>
<div class="t " style="left:313.02px;top:309.94px;transform:scaleX(0.9082)">플랫폼에</div>
<div class="t " style="left:283.15px;top:324.06px;transform:scaleX(0.9084)">업로드</div>
<div class="t n" style="left:270.61px;top:436.94px;transform:scaleX(0.9142)">허가합니다.</div>
<div class="t " style="left:418.83px;top:309.94px;transform:scaleX(0.9104)">E</div>
<div class="t " style="left:428.47px;top:309.94px;transform:scaleX(0.9084)">온라인</div>
<div class="t " style="left:395.08px;top:324.06px;transform:scaleX(0.9081)">서비스내에서의</div>
<div class="t " style="left:474.02px;top:324.06px;transform:scaleX(0.9089)">제</div>
<div class="t " style="left:402.69px;top:338.19px;transform:scaleX(0.9332)">3자의</div>
<div class="t " style="left:433.72px;top:338.19px;transform:scaleX(0.9082)">이용허락</div>
<div class="t n" style="left:393.43px;top:436.94px;transform:scaleX(0.9082)">허가하지</div>
<div class="t n" style="left:439.68px;top:436.94px;transform:scaleX(0.9158)">않습니다.</div>
<div class="t " style="left:97.00px;top:468.94px;transform:scaleX(1.0293)">3.</div>
<div class="t " style="left:109.53px;top:468.94px;transform:scaleX(0.9081)">센시티브한</div>
<div class="t " style="left:166.67px;top:468.94px;transform:scaleX(0.9082)">표현</div>
<div class="t " style="left:131.77px;top:489.13px;transform:scaleX(0.9311)">F</div>
<div class="t " style="left:140.98px;top:489.13px;transform:scaleX(0.9082)">성적</div>
<div class="t " style="left:165.43px;top:489.13px;transform:scaleX(0.9082)">표현</div>
<div class="t n" style="left:112.93px;top:586.93px;transform:scaleX(0.9082)">허가하지</div>
<div class="t n" style="left:159.18px;top:586.93px;transform:scaleX(0.9158)">않습니다.</div>
<div class="t " style="left:265.51px;top:489.13px;transform:scaleX(0.9127)">G</div>
<div class="t " style="left:276.34px;top:489.13px;transform:scaleX(0.9084)">폭력적</div>
<div class="t " style="left:311.70px;top:489.13px;transform:scaleX(0.9082)">표현</div>
<div class="t n" style="left:252.93px;top:586.93px;transform:scaleX(0.9082)">허가하지</div>
<div class="t n" style="left:299.18px;top:586.93px;transform:scaleX(0.9158)">않습니다.</div>
<div class="t " style="left:384.85px;top:489.13px;transform:scaleX(1.0376)">H</div>
<div class="t " style="left:396.13px;top:489.13px;transform:scaleX(0.9168)">정치활동・종교활동</div>
<div class="t n" style="left:393.43px;top:586.93px;transform:scaleX(0.9082)">허가하지</div>
<div class="t n" style="left:439.68px;top:586.93px;transform:scaleX(0.9158)">않습니다.</div>
<div class="t " style="left:97.00px;top:617.93px;transform:scaleX(1.0293)">4.</div>
<div class="t " style="left:109.53px;top:617.93px;transform:scaleX(0.9082)">가공</div>
<div class="t " style="left:127.03px;top:636.13px;transform:scaleX(1.0878)">I</div>
<div class="t " style="left:133.17px;top:636.13px;transform:scaleX(0.9082)">조정</div>
<div class="t n" style="left:112.11px;top:761.93px;transform:scaleX(0.9142)">허가합니다.</div>
<div class="t " style="left:231.10px;top:636.13px;transform:scaleX(1.1033)">J</div>
<div class="t " style="left:240.10px;top:636.13px;transform:scaleX(0.9082)">개변</div>
<div class="t n" style="left:217.61px;top:761.93px;transform:scaleX(0.9142)">허가합니다.</div>
<div class="t " style="left:313.32px;top:634.93px;transform:scaleX(0.9980)">K</div>
<div class="t " style="left:323.63px;top:634.93px;transform:scaleX(0.9082)">다른</div>
<div class="t " style="left:348.09px;top:634.93px;transform:scaleX(0.9082)">데이터를</div>
<div class="t " style="left:318.48px;top:649.06px;transform:scaleX(0.9082)">개변하기</div>
<div class="t " style="left:364.73px;top:649.06px;transform:scaleX(0.9082)">위해</div>
<div class="t " style="left:341.60px;top:663.19px;transform:scaleX(0.9082)">이용</div>
<div class="t n" style="left:323.61px;top:761.93px;transform:scaleX(0.9142)">허가합니다.</div>
<div class="t " style="left:420.29px;top:634.93px;transform:scaleX(1.0757)">L</div>
<div class="t " style="left:429.38px;top:634.93px;transform:scaleX(0.9212)">조정・개변의</div>
<div class="t " style="left:436.20px;top:649.06px;transform:scaleX(0.9082)">외부위탁</div>
<div class="t n" style="left:425.30px;top:761.93px;transform:scaleX(0.9082)">사용자간에서</div>
<div class="t n" style="left:423.98px;top:776.06px;transform:scaleX(0.9082)">실시하는</div>
<div class="t n" style="left:470.23px;top:776.06px;transform:scaleX(0.9082)">것을</div>
<div class="t n" style="left:429.11px;top:790.19px;transform:scaleX(0.9142)">허가합니다.</div>
<div class="t " style="left:97.00px;top:821.93px;transform:scaleX(1.0293)">5.</div>
<div class="t " style="left:109.53px;top:821.93px;transform:scaleX(0.9084)">재배포</div>
<div class="t " style="left:144.89px;top:821.93px;transform:scaleX(0.9089)">및</div>
<div class="t " style="left:158.45px;top:821.93px;transform:scaleX(0.9082)">배포</div>
<div class="t " style="left:125.76px;top:841.13px;transform:scaleX(1.0033)">M</div>
<div class="t " style="left:138.04px;top:841.13px;transform:scaleX(0.9084)">미개변</div>
<div class="t " style="left:173.40px;top:841.13px;transform:scaleX(0.9081)">상태에서의</div>
<div class="t " style="left:230.54px;top:841.13px;transform:scaleX(0.9084)">재배포</div>
<div class="t n" style="left:147.93px;top:938.93px;transform:scaleX(0.9082)">허가하지</div>
<div class="t n" style="left:194.18px;top:938.93px;transform:scaleX(0.9158)">않습니다.</div>
<div class="t " style="left:348.18px;top:841.13px;transform:scaleX(1.0320)">N</div>
<div class="t " style="left:359.41px;top:841.13px;transform:scaleX(0.9084)">개변한</div>
<div class="t " style="left:394.77px;top:841.13px;transform:scaleX(0.9082)">데이터의</div>
<div class="t " style="left:441.02px;top:841.13px;transform:scaleX(0.9082)">배포</div>
<div class="t n" style="left:358.93px;top:938.93px;transform:scaleX(0.9082)">허가하지</div>
<div class="t n" style="left:405.18px;top:938.93px;transform:scaleX(0.9158)">않습니다.</div>
<div class="t " style="left:542.00px;top:129.94px;transform:scaleX(1.0293)">6.</div>
<div class="t " style="left:554.53px;top:129.94px;transform:scaleX(0.9084)">미디어</div>
<div class="t " style="left:589.89px;top:129.94px;transform:scaleX(0.9081)">프로덕트에</div>
<div class="t " style="left:647.03px;top:129.94px;transform:scaleX(0.9082)">사용</div>
<div class="t " style="left:547.11px;top:146.94px;transform:scaleX(0.9825)">O</div>
<div class="t " style="left:558.56px;top:146.94px;transform:scaleX(0.9212)">영상・방송에</div>
<div class="t " style="left:575.10px;top:161.06px;transform:scaleX(0.9082)">이용</div>
<div class="t n" style="left:558.76px;top:288.94px;transform:scaleX(0.9081)">오리지날을</div>
<div class="t n" style="left:551.98px;top:303.06px;transform:scaleX(0.9082)">인식하지</div>
<div class="t n" style="left:598.23px;top:303.06px;transform:scaleX(0.9082)">못할</div>
<div class="t n" style="left:545.19px;top:317.19px;transform:scaleX(0.9084)">정도로</div>
<div class="t n" style="left:580.55px;top:317.19px;transform:scaleX(0.9084)">변화가</div>
<div class="t n" style="left:615.91px;top:317.19px;transform:scaleX(0.9089)">큰</div>
<div class="t n" style="left:557.42px;top:331.32px;transform:scaleX(0.9084)">개변을</div>
<div class="t n" style="left:592.78px;top:331.32px;transform:scaleX(0.9082)">했을</div>
<div class="t n" style="left:569.65px;top:345.45px;transform:scaleX(0.9084)">경우엔</div>
<div class="t n" style="left:545.86px;top:359.58px;transform:scaleX(0.9139)">허가합니다(공식</div>
<div class="t n" style="left:551.98px;top:373.71px;transform:scaleX(0.9082)">으로</div>
<div class="t n" style="left:576.43px;top:373.71px;transform:scaleX(0.9082)">오해하지</div>
<div class="t n" style="left:560.88px;top:387.85px;transform:scaleX(0.9082)">않기</div>
<div class="t n" style="left:585.33px;top:387.85px;transform:scaleX(0.9265)">위해)</div>
<div class="t " style="left:663.29px;top:146.94px;transform:scaleX(1.0042)">P</div>
<div class="t " style="left:673.45px;top:146.94px;transform:scaleX(0.9084)">출판물</div>
<div class="t " style="left:708.80px;top:146.94px;transform:scaleX(0.9089)">및</div>
<div class="t " style="left:653.36px;top:161.06px;transform:scaleX(0.9081)">전자출판물로의</div>
<div class="t " style="left:680.60px;top:175.19px;transform:scaleX(0.9082)">이용</div>
<div class="t n" style="left:652.03px;top:288.94px;transform:scaleX(0.9081)">권리자에게</div>
<div class="t n" style="left:709.17px;top:288.94px;transform:scaleX(0.9082)">따로</div>
<div class="t n" style="left:675.15px;top:303.06px;transform:scaleX(0.9084)">문의를</div>
<div class="t n" style="left:657.16px;top:317.19px;transform:scaleX(0.9132)">부탁드립니다.</div>
<div class="t " style="left:775.42px;top:146.94px;transform:scaleX(0.9825)">Q</div>
<div class="t " style="left:786.88px;top:146.94px;transform:scaleX(0.9084)">실물의</div>
<div class="t " style="left:755.36px;top:161.06px;transform:scaleX(0.9194)">입체조형(굿즈)으</div>
<div class="t " style="left:779.82px;top:175.19px;transform:scaleX(0.9089)">로</div>
<div class="t " style="left:793.38px;top:175.19px;transform:scaleX(0.9082)">이용</div>
<div class="t n" style="left:758.03px;top:288.94px;transform:scaleX(0.9081)">권리자에게</div>
<div class="t n" style="left:815.17px;top:288.94px;transform:scaleX(0.9082)">따로</div>
<div class="t n" style="left:781.15px;top:303.06px;transform:scaleX(0.9084)">문의를</div>
<div class="t n" style="left:763.16px;top:317.19px;transform:scaleX(0.9132)">부탁드립니다.</div>
<div class="t " style="left:876.61px;top:146.94px;transform:scaleX(0.9060)">R</div>
<div class="t " style="left:886.80px;top:146.94px;transform:scaleX(0.9082)">제품개발</div>
<div class="t " style="left:887.15px;top:161.06px;transform:scaleX(0.9084)">등에서</div>
<div class="t " style="left:870.80px;top:175.19px;transform:scaleX(0.9082)">소프트웨어에</div>
<div class="t " style="left:892.60px;top:189.32px;transform:scaleX(0.9082)">도입</div>
<div class="t n" style="left:864.03px;top:288.94px;transform:scaleX(0.9081)">권리자에게</div>
<div class="t n" style="left:921.17px;top:288.94px;transform:scaleX(0.9082)">따로</div>
<div class="t n" style="left:887.15px;top:303.06px;transform:scaleX(0.9084)">문의를</div>
<div class="t n" style="left:869.16px;top:317.19px;transform:scaleX(0.9132)">부탁드립니다.</div>
<div class="t " style="left:542.00px;top:419.94px;transform:scaleX(1.0293)">7.</div>
<div class="t " style="left:554.53px;top:419.94px;transform:scaleX(0.9499)">2차</div>
<div class="t " style="left:574.67px;top:419.94px;transform:scaleX(0.9082)">창작</div>
<div class="t " style="left:559.16px;top:436.94px;transform:scaleX(0.9206)">S</div>
<div class="t " style="left:568.88px;top:436.94px;transform:scaleX(0.9084)">메쉬나</div>
<div class="t " style="left:604.24px;top:436.94px;transform:scaleX(0.9082)">웨이트를</div>
<div class="t " style="left:546.35px;top:451.06px;transform:scaleX(0.9082)">가져와서</div>
<div class="t " style="left:592.60px;top:451.06px;transform:scaleX(0.9082)">의상</div>
<div class="t " style="left:617.05px;top:451.06px;transform:scaleX(0.9082)">데이터를</div>
<div class="t " style="left:592.60px;top:465.19px;transform:scaleX(0.9082)">제작</div>
<div class="t n" style="left:564.02px;top:592.93px;transform:scaleX(0.9084)">작성을</div>
<div class="t n" style="left:599.38px;top:592.93px;transform:scaleX(0.9082)">허가하지</div>
<div class="t n" style="left:580.05px;top:607.06px;transform:scaleX(0.9158)">않습니다.</div>
<div class="t " style="left:699.14px;top:436.94px;transform:scaleX(1.0412)">T</div>
<div class="t " style="left:708.91px;top:436.94px;transform:scaleX(0.9084)">메쉬나</div>
<div class="t " style="left:744.27px;top:436.94px;transform:scaleX(0.9082)">웨이트를</div>
<div class="t " style="left:691.80px;top:451.06px;transform:scaleX(0.9082)">가져오지</div>
<div class="t " style="left:738.05px;top:451.06px;transform:scaleX(0.9082)">않고</div>
<div class="t " style="left:762.50px;top:451.06px;transform:scaleX(0.9084)">데이터</div>
<div class="t " style="left:691.79px;top:465.19px;transform:scaleX(0.9084)">규격에</div>
<div class="t " style="left:727.15px;top:465.19px;transform:scaleX(0.9084)">준수한</div>
<div class="t " style="left:762.51px;top:465.19px;transform:scaleX(0.9084)">새로운</div>
<div class="t " style="left:690.46px;top:479.32px;transform:scaleX(0.9082)">의상</div>
<div class="t " style="left:714.91px;top:479.32px;transform:scaleX(0.9084)">데이터</div>
<div class="t " style="left:750.27px;top:479.32px;transform:scaleX(0.9089)">및</div>
<div class="t " style="left:763.84px;top:479.32px;transform:scaleX(0.9084)">텍스처</div>
<div class="t " style="left:714.92px;top:493.45px;transform:scaleX(0.9084)">데이터</div>
<div class="t " style="left:750.28px;top:493.45px;transform:scaleX(0.9082)">제작</div>
<div class="t n" style="left:692.66px;top:592.93px;transform:scaleX(0.9212)">영리・비영리</div>
<div class="t n" style="left:761.64px;top:592.93px;transform:scaleX(0.9084)">목적에</div>
<div class="t n" style="left:694.93px;top:607.06px;transform:scaleX(0.9082)">관계없이</div>
<div class="t n" style="left:741.18px;top:607.06px;transform:scaleX(0.9248)">배포(일부,</div>
<div class="t n" style="left:702.03px;top:621.19px;transform:scaleX(0.9081)">전체업로드</div>
<div class="t n" style="left:759.17px;top:621.19px;transform:scaleX(0.9265)">등)를</div>
<div class="t n" style="left:714.61px;top:635.32px;transform:scaleX(0.9142)">허가합니다.</div>
<div class="t " style="left:828.20px;top:436.94px;transform:scaleX(1.0282)">U</div>
<div class="t " style="left:839.40px;top:436.94px;transform:scaleX(0.9082)">데이터를</div>
<div class="t " style="left:885.65px;top:436.94px;transform:scaleX(0.9082)">모티브로</div>
<div class="t " style="left:931.90px;top:436.94px;transform:scaleX(0.9089)">한</div>
<div class="t " style="left:830.66px;top:451.06px;transform:scaleX(0.9499)">2차</div>
<div class="t " style="left:850.80px;top:451.06px;transform:scaleX(0.9149)">저작물(이른바</div>
<div class="t " style="left:922.85px;top:451.06px;transform:scaleX(0.9499)">2차</div>
<div class="t " style="left:854.92px;top:465.19px;transform:scaleX(0.9212)">창작)의</div>
<div class="t " style="left:894.28px;top:465.19px;transform:scaleX(0.9082)">제작</div>
<div class="t n" style="left:834.66px;top:592.93px;transform:scaleX(0.9212)">영리・비영리</div>
<div class="t n" style="left:903.64px;top:592.93px;transform:scaleX(0.9084)">목적에</div>
<div class="t n" style="left:836.93px;top:607.06px;transform:scaleX(0.9082)">관계없이</div>
<div class="t n" style="left:883.18px;top:607.06px;transform:scaleX(0.9248)">배포(일부,</div>
<div class="t n" style="left:844.03px;top:621.19px;transform:scaleX(0.9081)">전체업로드</div>
<div class="t n" style="left:901.17px;top:621.19px;transform:scaleX(0.9265)">등)를</div>
<div class="t n" style="left:856.61px;top:635.32px;transform:scaleX(0.9142)">허가합니다.</div>
<div class="t " style="left:542.00px;top:667.93px;transform:scaleX(1.0293)">8.</div>
<div class="t " style="left:554.53px;top:667.93px;transform:scaleX(0.9089)">그</div>
<div class="t " style="left:568.09px;top:667.93px;transform:scaleX(0.9089)">외</div>
<div class="t " style="left:600.74px;top:686.13px;transform:scaleX(0.8880)">V</div>
<div class="t " style="left:610.21px;top:686.13px;transform:scaleX(0.9082)">크레딧의</div>
<div class="t " style="left:656.46px;top:686.13px;transform:scaleX(0.9082)">표기</div>
<div class="t n" style="left:563.02px;top:784.93px;transform:scaleX(0.9084)">필요는</div>
<div class="t n" style="left:598.38px;top:784.93px;transform:scaleX(0.9084)">없지만</div>
<div class="t n" style="left:633.73px;top:784.93px;transform:scaleX(0.9084)">있으면</div>
<div class="t n" style="left:669.09px;top:784.93px;transform:scaleX(0.9158)">좋습니다.</div>
<div class="t " style="left:797.72px;top:686.13px;transform:scaleX(0.9583)">W</div>
<div class="t " style="left:810.78px;top:686.13px;transform:scaleX(0.9081)">권리의무의</div>
<div class="t " style="left:867.92px;top:686.13px;transform:scaleX(0.9082)">양도</div>
<div class="t " style="left:892.38px;top:686.13px;transform:scaleX(0.9089)">등</div>
<div class="t n" style="left:803.93px;top:784.93px;transform:scaleX(0.9082)">허가하지</div>
<div class="t n" style="left:850.18px;top:784.93px;transform:scaleX(0.9158)">않습니다.</div>
<div class="t " style="left:542.00px;top:815.93px;transform:scaleX(1.0293)">9.</div>
<div class="t " style="left:554.53px;top:815.93px;transform:scaleX(0.9082)">특기</div>
<div class="t " style="left:578.98px;top:815.93px;transform:scaleX(0.9082)">사항</div>
<div class="t " style="left:716.15px;top:834.13px;transform:scaleX(0.8859)">X</div>
<div class="t " style="left:725.60px;top:834.13px;transform:scaleX(0.9082)">특기</div>
<div class="t " style="left:750.05px;top:834.13px;transform:scaleX(0.9082)">사항</div>
<div class="t n" style="left:732.16px;top:931.93px;transform:scaleX(0.9870)">なし</div>
</div>
</body></html>
